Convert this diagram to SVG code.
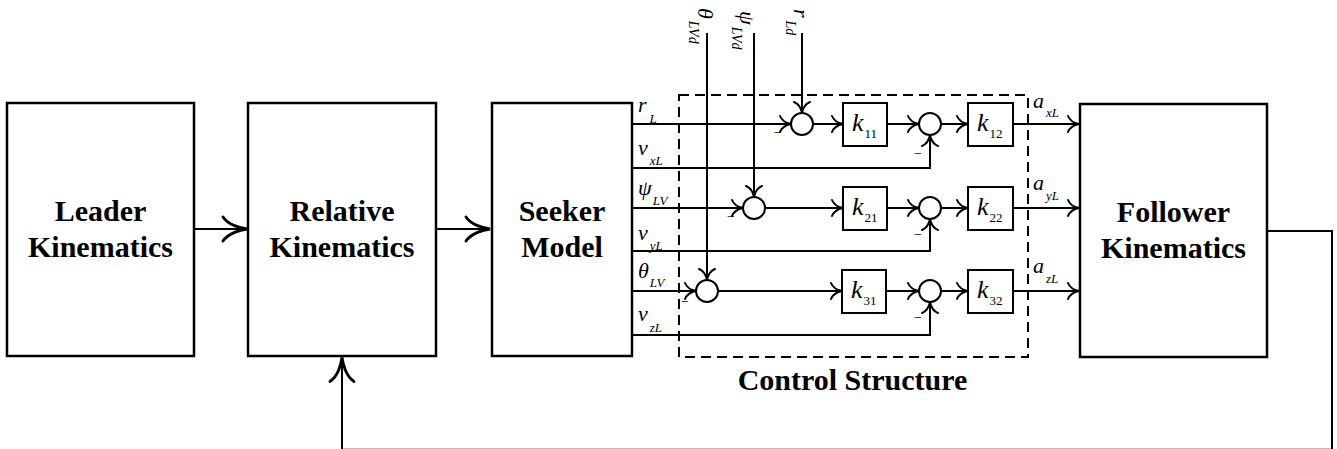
<svg xmlns="http://www.w3.org/2000/svg" width="1337" height="449" viewBox="0 0 1337 449">
<style>
.box{fill:#fff;stroke:#000;stroke-width:2.5}
.kb{fill:#fff;stroke:#000;stroke-width:2}
.w{fill:none;stroke:#000;stroke-width:2}
.sum{fill:#fff;stroke:#000;stroke-width:2}
.dash{fill:none;stroke:#000;stroke-width:2;stroke-dasharray:10 6}
.t{font-family:"Liberation Serif","Times New Roman",serif;font-weight:bold;font-size:30px;text-anchor:middle}
.m{font-family:"Liberation Serif","Times New Roman",serif;font-style:italic;font-size:22px}
.k{font-family:"Liberation Serif","Times New Roman",serif;font-style:italic;font-size:26px}
.s{font-size:13px}
.n{font-style:normal}
.mi{font-family:"Liberation Serif",serif;font-size:14px}
</style>
<defs>
<marker id="a" markerUnits="userSpaceOnUse" markerWidth="30" markerHeight="30" viewBox="-20 -15 30 30" refX="0" refY="0" orient="auto" overflow="visible">
<path d="M-11,-8 C-9,-3 -3,-0.6 0,0 C-3,0.6 -9,3 -11,8" fill="none" stroke="#000" stroke-width="2" stroke-linecap="round"/>
</marker>
<marker id="b" markerUnits="userSpaceOnUse" markerWidth="40" markerHeight="40" viewBox="-25 -15 30 30" refX="0" refY="0" orient="auto" overflow="visible">
<path d="M-18,-9 C-14,-3 -5,-0.6 0,0 C-5,0.6 -14,3 -18,9" fill="none" stroke="#000" stroke-width="2.2" stroke-linecap="round"/>
</marker>
</defs>

<g id="connectors">
<path class="w" d="M194,229 H247" marker-end="url(#b)"/>
<path class="w" d="M436,229 H490" marker-end="url(#b)"/>
<path class="w" d="M1267,231 H1332 V449.8 H342 V357.5" marker-end="url(#b)"/>
<path class="w" d="M632,124 H791" marker-end="url(#a)"/>
<path class="w" d="M802,33 V113" marker-end="url(#a)"/>
<path class="w" d="M813,124 H843" marker-end="url(#a)"/>
<path class="w" d="M887,124 H919" marker-end="url(#a)"/>
<path class="w" d="M941,124 H968" marker-end="url(#a)"/>
<path class="w" d="M1013,124 H1079" marker-end="url(#a)"/>
<path class="w" d="M632,168 H930 V135" marker-end="url(#a)"/>
<path class="w" d="M754,33 V197" marker-end="url(#a)"/>
<path class="w" d="M632,208 H743" marker-end="url(#a)"/>
<path class="w" d="M765,208 H843" marker-end="url(#a)"/>
<path class="w" d="M887,208 H919" marker-end="url(#a)"/>
<path class="w" d="M941,208 H968" marker-end="url(#a)"/>
<path class="w" d="M1013,208 H1079" marker-end="url(#a)"/>
<path class="w" d="M632,251 H930 V219" marker-end="url(#a)"/>
<path class="w" d="M707,33 V280" marker-end="url(#a)"/>
<path class="w" d="M632,291 H696" marker-end="url(#a)"/>
<path class="w" d="M718,291 H842" marker-end="url(#a)"/>
<path class="w" d="M886,291 H919" marker-end="url(#a)"/>
<path class="w" d="M941,291 H968" marker-end="url(#a)"/>
<path class="w" d="M1013,291 H1079" marker-end="url(#a)"/>
<path class="w" d="M632,335 H930 V302" marker-end="url(#a)"/>
</g>

<g id="control-structure">
<rect class="dash" x="679" y="95" width="349" height="262"/>
<text class="t" x="852.5" y="390">Control Structure</text>
</g>

<g id="leader">
<rect class="box" x="7" y="103" width="187" height="253"/>
<text class="t" x="100.5" y="221">Leader</text>
<text class="t" x="100.5" y="257">Kinematics</text>
</g>
<g id="relative">
<rect class="box" x="248" y="103" width="188" height="253"/>
<text class="t" x="342" y="221">Relative</text>
<text class="t" x="342" y="257">Kinematics</text>
</g>
<g id="seeker">
<rect class="box" x="492" y="103" width="140" height="253"/>
<text class="t" x="562" y="221">Seeker</text>
<text class="t" x="562" y="257">Model</text>
</g>
<g id="follower">
<rect class="box" x="1080" y="104" width="187" height="253"/>
<text class="t" x="1173.5" y="222">Follower</text>
<text class="t" x="1173.5" y="258">Kinematics</text>
</g>

<g id="k11"><rect class="kb" x="843" y="103" width="44" height="43"/><text class="k" x="852" y="131">k<tspan class="s n" dy="7" dx="1">11</tspan></text></g>
<g id="k12"><rect class="kb" x="968" y="103" width="45" height="43"/><text class="k" x="977" y="131">k<tspan class="s n" dy="7" dx="1">12</tspan></text></g>
<g id="k21"><rect class="kb" x="843" y="187" width="44" height="43"/><text class="k" x="852" y="215">k<tspan class="s n" dy="7" dx="1">21</tspan></text></g>
<g id="k22"><rect class="kb" x="968" y="187" width="45" height="43"/><text class="k" x="977" y="215">k<tspan class="s n" dy="7" dx="1">22</tspan></text></g>
<g id="k31"><rect class="kb" x="842" y="270" width="44" height="43"/><text class="k" x="851" y="298">k<tspan class="s n" dy="7" dx="1">31</tspan></text></g>
<g id="k32"><rect class="kb" x="968" y="270" width="45" height="43"/><text class="k" x="977" y="298">k<tspan class="s n" dy="7" dx="1">32</tspan></text></g>

<g id="sum1"><circle class="sum" cx="802" cy="124" r="11"/><text class="mi" x="774" y="137">−</text></g>
<g id="sum2"><circle class="sum" cx="930" cy="124" r="11"/><text class="mi" x="914" y="158">−</text></g>
<g id="sum3"><circle class="sum" cx="754" cy="208" r="11"/><text class="mi" x="727" y="221">−</text></g>
<g id="sum4"><circle class="sum" cx="930" cy="208" r="11"/><text class="mi" x="914" y="239">−</text></g>
<g id="sum5"><circle class="sum" cx="707" cy="291" r="11"/><text class="mi" x="681" y="306">−</text></g>
<g id="sum6"><circle class="sum" cx="930" cy="291" r="11"/><text class="mi" x="914" y="322">−</text></g>

<g id="labels">
<text class="m" x="638" y="112">r<tspan class="s" dy="11" dx="3">L</tspan></text>
<text class="m" x="638" y="155">v<tspan class="s" dy="10" dx="2">xL</tspan></text>
<text class="m" x="638" y="195">ψ<tspan class="s" dy="10" dx="1">LV</tspan></text>
<text class="m" x="638" y="240">v<tspan class="s" dy="10" dx="2">yL</tspan></text>
<text class="m" x="638" y="278">θ<tspan class="s" dy="9" dx="1">LV</tspan></text>
<text class="m" x="638" y="321">v<tspan class="s" dy="11" dx="2">zL</tspan></text>
<text class="m" x="1033" y="108">a<tspan class="s" dy="9" dx="2">xL</tspan></text>
<text class="m" x="1033" y="190">a<tspan class="s" dy="10" dx="2">yL</tspan></text>
<text class="m" x="1033" y="273">a<tspan class="s" dy="10" dx="2">zL</tspan></text>
<text class="m" transform="translate(698,8) rotate(90)">θ<tspan style="font-size:14px" dy="9" dx="2">LVd</tspan></text>
<text class="m" transform="translate(740,11) rotate(90)">ψ<tspan style="font-size:14px" dy="8" dx="2">LVd</tspan></text>
<text class="m" transform="translate(794,9) rotate(90)">r<tspan style="font-size:14px" dy="8" dx="3">Ld</tspan></text>
</g>
</svg>
